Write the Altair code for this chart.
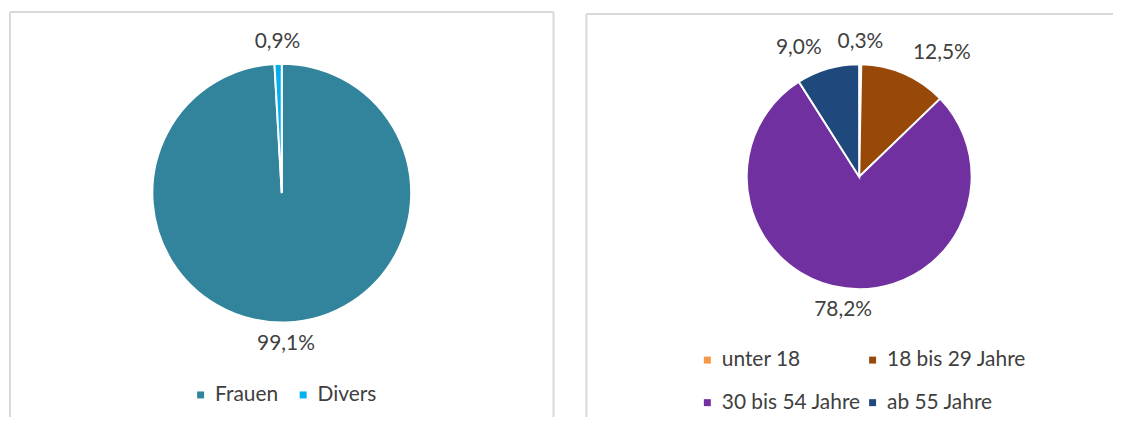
import altair as alt
import pandas as pd

# ---- data ----
geschlecht = ["Frauen", "Divers"]
geschlecht_werte = [99.1, 0.9]
geschlecht_labels = ["99,1%", "0,9%"]
geschlecht_farben = ["#31849B", "#00B0F0"]

alter = ["unter 18", "18 bis 29 Jahre", "30 bis 54 Jahre", "ab 55 Jahre"]
alter_werte = [0.3, 12.5, 78.2, 9.0]
alter_labels = ["0,3%", "12,5%", "78,2%", "9,0%"]
alter_farben = ["#F79646", "#984807", "#7030A0", "#1F497D"]

FONT = "Lato"
TXT = "#404040"
BORDER = "#D9D9D9"
PANEL_H = 409


def pie_panel(cats, vals, labels, colors, field, cx, cy, r, legend, width, borders):
    df = pd.DataFrame({field: cats, "wert": vals, "label": labels,
                       "ord": list(range(len(cats)))})
    base = alt.Chart(df)
    tscale = alt.Scale(domain=[0, 100])

    arc = base.mark_arc(outerRadius=r, stroke="white", strokeWidth=2).encode(
        theta=alt.Theta("wert:Q", stack=True, scale=tscale),
        color=alt.Color(f"{field}:N",
                        scale=alt.Scale(domain=cats, range=colors),
                        sort=cats, legend=legend),
        order=alt.Order("ord:Q"),
        x=alt.value(cx), y=alt.value(cy),
    )

    lab_base = base.transform_window(
        cum="sum(wert)", sort=[alt.SortField("ord", order="ascending")]
    ).transform_calculate(
        mid="datum.cum - datum.wert / 2",
        s="sin(datum.mid / 100 * 2 * PI)",
    )

    layers = [arc]
    for cond, align in [("datum.s > 0.2", "left"),
                        ("datum.s < -0.2", "right"),
                        ("abs(datum.s) <= 0.2", "center")]:
        layers.append(
            lab_base.transform_filter(cond).mark_text(
                radius=r + 22, align=align, baseline="middle",
                font=FONT, fontSize=21, color=TXT,
            ).encode(
                theta=alt.Theta("mid:Q", stack=False, scale=tscale),
                text="label:N",
                x=alt.value(cx), y=alt.value(cy),
            )
        )

    one = pd.DataFrame({"k": [0]})
    for (x1, x2, y1, y2) in borders:
        enc = {"x": alt.value(x1), "y": alt.value(y1)}
        if x2 is not None:
            enc["x2"] = alt.value(x2)
        if y2 is not None:
            enc["y2"] = alt.value(y2)
        layers.append(alt.Chart(one).mark_rule(color=BORDER, strokeWidth=2).encode(**enc))

    return alt.layer(*layers).properties(width=width, height=PANEL_H)


left = pie_panel(
    geschlecht, geschlecht_werte, geschlecht_labels, geschlecht_farben,
    "Geschlecht", 274, 184, 130,
    alt.Legend(title=None, orient="none", legendX=182, legendY=376,
               direction="horizontal", symbolType="square", symbolSize=49,
               symbolStrokeWidth=0, labelFont=FONT, labelFontSize=21,
               labelColor=TXT, labelOffset=4, columnPadding=14, padding=0),
    550,
    [(1, None, 2, PANEL_H), (1, 547, 2, None), (547, None, 2, PANEL_H)],
)

right = pie_panel(
    alter, alter_werte, alter_labels, alter_farben,
    "Alter", 275, 167.5, 113,
    alt.Legend(title=None, orient="none", legendX=112, legendY=341,
               direction="horizontal", columns=2, symbolType="square",
               symbolSize=49, symbolStrokeWidth=0, labelFont=FONT,
               labelFontSize=21, labelColor=TXT, labelOffset=4,
               columnPadding=1, rowPadding=21, padding=0),
    530,
    [(1, None, 4, PANEL_H), (1, 530, 4, None)],
)

chart = alt.hconcat(left, right, spacing=27).resolve_scale(
    color="independent", theta="independent"
).resolve_legend(color="independent").properties(
    padding=0, background="white"
).configure_view(stroke="transparent")

chart.save("out.html", embed_options={"renderer": "svg", "actions": False})
